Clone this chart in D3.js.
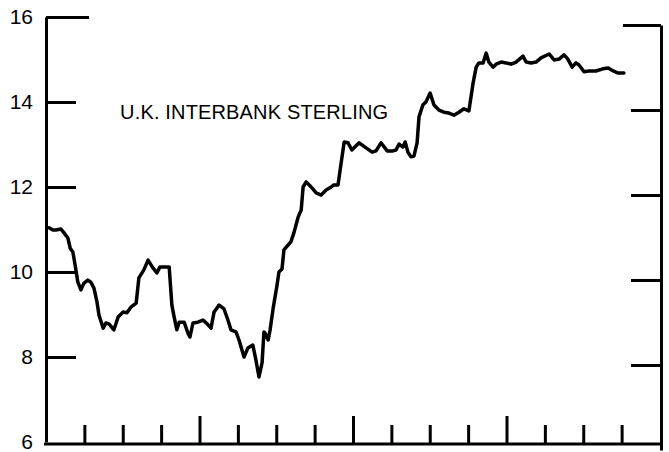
<!DOCTYPE html>
<html>
<head>
<meta charset="utf-8">
<script src="https://cdn.jsdelivr.net/npm/d3@7"></script>
<style>
  body { margin: 0; background: #fff; }
  svg { display: block; }
</style>
</head>
<body>
<div id="chart"></div>
<script>
const width = 669;
const height = 452;

// time position (in tick intervals) and rate
const months = [
    0.08,0.18,0.26,0.39,0.47,0.57,0.63,0.70,0.76,0.83,
    0.91,0.99,1.09,1.17,1.25,1.33,1.38,1.49,1.56,1.64,
    1.77,1.88,2.01,2.11,2.22,2.35,2.42,2.55,2.66,2.79,
    2.89,2.97,3.13,3.21,3.28,3.34,3.41,3.47,3.60,3.70,
    3.75,3.83,3.96,4.09,4.20,4.30,4.38,4.51,4.64,4.74,
    4.82,4.95,5.03,5.16,5.26,5.39,5.47,5.55,5.63,5.68,
    5.71,5.79,5.84,5.92,6.02,6.07,6.15,6.20,6.38,6.46,
    6.57,6.65,6.70,6.78,6.91,7.04,7.17,7.30,7.43,7.50,
    7.61,7.69,7.77,7.87,7.97,8.16,8.34,8.50,8.60,8.73,
    8.89,9.04,9.12,9.20,9.30,9.36,9.43,9.51,9.59,9.67,
    9.72,9.82,9.90,10.01,10.11,10.24,10.37,10.50,10.63,10.76,
    10.89,11.02,11.13,11.21,11.28,11.39,11.47,11.54,11.65,11.73,
    11.86,11.99,12.12,12.25,12.43,12.51,12.64,12.77,12.90,13.11,
    13.24,13.37,13.50,13.60,13.71,13.81,13.89,14.02,14.15,14.33,
    14.51,14.65,14.78,14.91,15.06
];
const rates = [
    11.04,10.99,10.99,11.01,10.92,10.80,10.56,10.47,10.16,9.76,
    9.58,9.74,9.81,9.76,9.62,9.29,8.99,8.68,8.80,8.78,
    8.64,8.94,9.06,9.04,9.18,9.27,9.86,10.05,10.28,10.09,
    9.98,10.12,10.12,10.12,9.22,8.94,8.64,8.82,8.82,8.56,
    8.47,8.80,8.82,8.87,8.78,8.68,9.06,9.22,9.13,8.87,
    8.64,8.59,8.40,8.00,8.21,8.28,7.93,7.53,7.86,8.59,
    8.56,8.40,8.64,9.15,9.69,10.00,10.07,10.52,10.71,10.92,
    11.29,11.46,12.00,12.12,12.00,11.86,11.81,11.93,12.00,12.05,
    12.05,12.56,13.06,13.04,12.87,13.04,12.92,12.82,12.85,13.04,
    12.85,12.85,12.87,13.01,12.94,13.06,12.82,12.71,12.73,13.04,
    13.65,13.93,14.00,14.21,13.93,13.81,13.76,13.74,13.69,13.76,
    13.84,13.79,14.45,14.82,14.92,14.92,15.15,14.94,14.82,14.89,
    14.94,14.92,14.89,14.94,15.08,14.94,14.92,14.94,15.04,15.13,
    14.99,15.01,15.11,15.01,14.82,14.92,14.87,14.71,14.73,14.73,
    14.78,14.80,14.73,14.68,14.68
];
const yTicks = [6, 8, 10, 12, 14, 16];
const xTicks = d3.range(1, 16);
const majorX = [4, 8, 12];
const title = "U.K. INTERBANK STERLING";

const x = d3.scaleLinear().domain([0, 16]).range([46, 660]);
const y = d3.scaleLinear().domain([6, 16]).range([442, 17]);
// the scan is slightly skewed: right-hand ticks sit a bit lower
const yRight = d3.scaleLinear().domain([6, 16]).range([450, 25]);

const font = "'Liberation Sans', Arial, Helvetica, sans-serif";

const svg = d3.select("#chart")
    .append("svg")
    .attr("width", width)
    .attr("height", height);

// left axis, ticks pointing inward
const leftAxis = svg.append("g")
    .attr("transform", `translate(${x(0)},0)`)
    .call(d3.axisLeft(y).tickValues(yTicks).tickSizeInner(-30).tickSizeOuter(0).tickPadding(13));
leftAxis.select(".domain").attr("stroke-width", 3);
leftAxis.selectAll(".tick line").attr("stroke-width", 3)
    .attr("x2", d => d === 16 ? 43 : d === 6 ? 0 : 30);
leftAxis.selectAll(".tick text")
    .style("font-family", font)
    .style("font-size", "21px")
    .attr("fill", "#000");
leftAxis.selectAll("path, line").attr("stroke", "#000");

// right axis
const rightAxis = svg.append("g")
    .attr("transform", `translate(${x(16) + 1},0)`)
    .call(d3.axisRight(yRight).tickValues(yTicks.filter(d => d > 6)).tickSizeInner(-30).tickSizeOuter(0).tickFormat(""));
rightAxis.select(".domain").attr("stroke-width", 3);
rightAxis.selectAll(".tick line").attr("stroke-width", 3)
    .attr("x2", d => d === 16 ? -38 : -30);
rightAxis.selectAll("path, line").attr("stroke", "#000");

// bottom axis, ticks pointing up
const bottomAxis = svg.append("g")
    .attr("transform", `translate(0,${y(6) + 2})`)
    .call(d3.axisBottom(x).tickValues(xTicks).tickSizeInner(-19).tickSizeOuter(0).tickFormat(""));
bottomAxis.select(".domain").attr("stroke-width", 3)
    .attr("d", `M${x(0) - 2},0H${x(16) + 2}`);
bottomAxis.selectAll(".tick line").attr("stroke-width", 3)
    .attr("y2", d => majorX.includes(d) ? -28 : -19);
bottomAxis.selectAll("path, line").attr("stroke", "#000");

// the rate line
const data = months.map((m, i) => ({ t: m, v: rates[i] }));
const line = d3.line()
    .x(d => x(d.t))
    .y(d => y(d.v));

svg.append("path")
    .datum(data)
    .attr("d", line)
    .attr("fill", "none")
    .attr("stroke", "#000")
    .attr("stroke-width", 3.5)
    .attr("stroke-linejoin", "round")
    .attr("stroke-linecap", "round");

// label
svg.append("text")
    .attr("x", x(1.93))
    .attr("y", y(13.6))
    .attr("textLength", 268)
    .attr("lengthAdjust", "spacing")
    .style("font-family", font)
    .style("font-size", "20px")
    .attr("fill", "#000")
    .text(title);
</script>
</body>
</html>
